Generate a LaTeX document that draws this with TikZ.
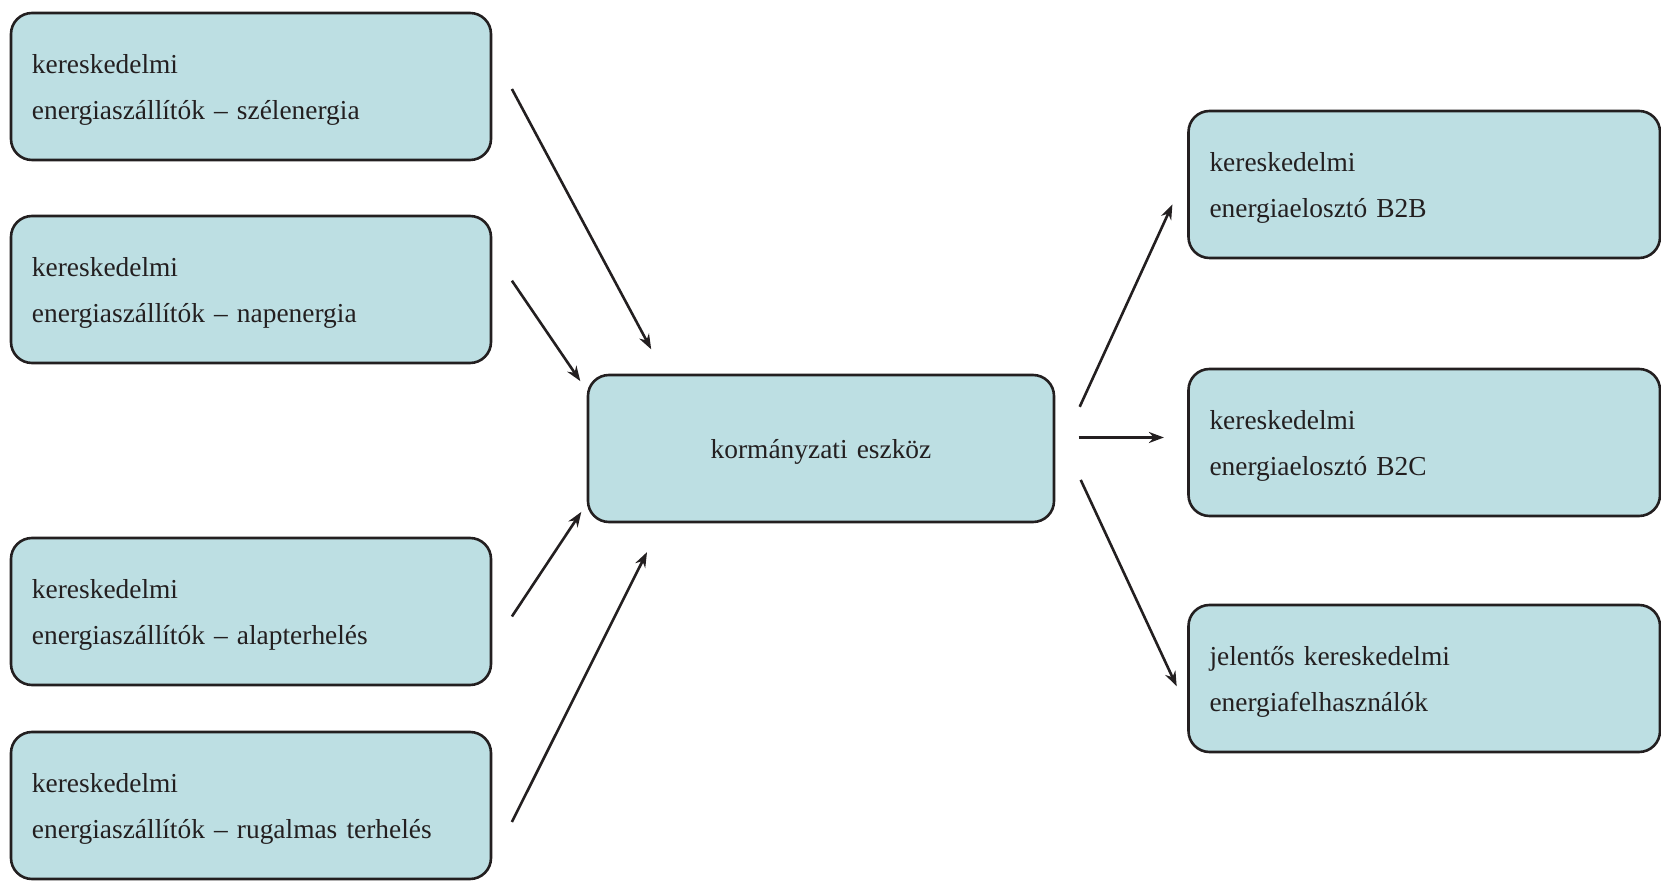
\documentclass[tikz,border=0pt]{standalone}
\usepackage{fontspec}
\setmainfont{Liberation Serif}
\usetikzlibrary{calc,arrows.meta}
\definecolor{boxfill}{RGB}{189,223,227}
\definecolor{boxline}{RGB}{35,31,32}
\tikzset{
  flowbox/.style={draw=boxline, fill=boxfill, line width=1.3pt, rounded corners=10.5pt,
    minimum height=73.5pt, inner xsep=10.5pt, inner ysep=0pt,
    font=\fontsize{13.7}{23.3}\selectfont, text=boxline,
    execute at begin node={\rule{0pt}{13pt}}},
  leftbox/.style={flowbox, text width=219pt, align=left, minimum width=240pt},
  rightbox/.style={flowbox, text width=214.75pt, align=left, minimum width=235.75pt},
  midbox/.style={flowbox, text width=212pt, align=center, minimum width=233pt},
  conn/.style={draw=boxline, line width=1.3pt, -{Stealth[length=7.5pt,width=5.5pt]}}
}
\begin{document}
\begin{tikzpicture}[x=0.5pt,y=-0.5pt]
\useasboundingbox (0,0) rectangle (1661,881);
\node[leftbox] (L1) at (251,86.5) {kereskedelmi\\energiaszállítók – szélenergia};
\node[leftbox] (L2) at (251,289.5) {kereskedelmi\\energiaszállítók – napenergia};
\node[leftbox] (L3) at (251,611.5) {kereskedelmi\\energiaszállítók – alapterhelés};
\node[leftbox] (L4) at (251,805.5) {kereskedelmi\\energiaszállítók – rugalmas terhelés};
\node[midbox] (C) at (821,448.5) {kormányzati eszköz};
\node[rightbox] (R1) at (1424.25,184.5) {kereskedelmi\\energiaelosztó B2B};
\node[rightbox] (R2) at (1424.25,442.5) {kereskedelmi\\energiaelosztó B2C};
\node[rightbox] (R3) at (1424.25,678.5) {jelentős kereskedelmi\\energiafelhasználók};

\coordinate (a1s) at ($(L1.east)+(19.6,2.5)$);
\coordinate (a1e) at ($(C.north west)+(64.5,-24.4)$);
\coordinate (a2s) at ($(L2.east)+(19.6,-8.8)$);
\coordinate (a2e) at ($(C.north west)+(-6.4,7.4)$);
\coordinate (a3s) at ($(L3.east)+(19.6,5)$);
\coordinate (a3e) at ($(C.south west)+(-5.4,-11.4)$);
\coordinate (a4s) at ($(L4.east)+(19.6,16.5)$);
\coordinate (a4e) at ($(C.south west)+(60.3,28.8)$);
\coordinate (b1s) at ($(C.east)+(24.4,-41.7)$);
\coordinate (b1e) at ($(R1.west)+(-14.8,19.9)$);
\coordinate (b2s) at ($(C.east)+(23.3,-11)$);
\coordinate (b2e) at ($(R2.west)+(-23.3,-5)$);
\coordinate (b3s) at ($(C.east)+(25.4,31.4)$);
\coordinate (b3e) at ($(R3.west)+(-10.5,7.9)$);

\draw[conn] (a1s) -- (a1e);
\draw[conn] (a2s) -- (a2e);
\draw[conn] (a3s) -- (a3e);
\draw[conn] (a4s) -- (a4e);
\draw[conn] (b1s) -- (b1e);
\draw[conn] (b2s) -- (b2e);
\draw[conn] (b3s) -- (b3e);
\end{tikzpicture}
\end{document}
